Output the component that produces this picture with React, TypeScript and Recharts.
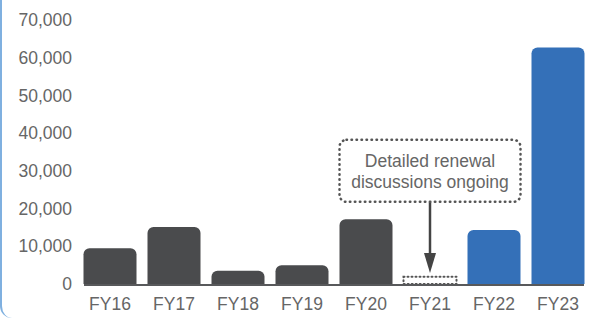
import React from "react";
import {
  ComposedChart,
  Bar,
  XAxis,
  YAxis,
  ReferenceLine,
  ReferenceDot,
  Rectangle,
} from "recharts";

const years = ["FY16", "FY17", "FY18", "FY19", "FY20", "FY21", "FY22", "FY23"];
const values = [9500, 15100, 3500, 5000, 17150, 1900, 14300, 62700];
const status = ["actual", "actual", "actual", "actual", "actual", "pending", "new", "new"];
const yTicks = [0, 10000, 20000, 30000, 40000, 50000, 60000, 70000];
const noteLines = ["Detailed renewal", "discussions ongoing"];
const noteAt = { year: "FY21", value: 30000 };
const arrowFrom = 21700;
const arrowTo = 2900;

const data = years.map((year, i) => ({ year, value: values[i], status: status[i] }));

const GRAY = "#4a4b4d";
const BLUE = "#3470b8";
const TEXT = "#666666";
const FONT = "'Liberation Sans', Arial, sans-serif";

function BarShape(props: any) {
  const { x, y, width, height, payload } = props;
  if (payload.status === "pending") {
    return (
      <rect
        x={x}
        y={y}
        width={width}
        height={height}
        fill="none"
        stroke="#555"
        strokeWidth={2}
        strokeDasharray="1 3"
        strokeLinecap="round"
      />
    );
  }
  return (
    <Rectangle
      x={x}
      y={y}
      width={width}
      height={height}
      radius={[6, 6, 0, 0]}
      fill={payload.status === "new" ? BLUE : GRAY}
    />
  );
}

function NoteBox(props: any) {
  const { cx, cy } = props;
  const w = 181;
  const h = 62;
  return (
    <g>
      <rect
        x={cx - w / 2}
        y={cy - h / 2}
        width={w}
        height={h}
        rx={7}
        fill="#fff"
        stroke="#555"
        strokeWidth={2.5}
        strokeDasharray="0.5 4.5"
        strokeLinecap="round"
      />
      {noteLines.map((line, i) => (
        <text
          key={line}
          x={cx}
          y={cy + (i - 0.5) * 21}
          dy="0.36em"
          textAnchor="middle"
          fill={TEXT}
          fontSize={17.5}
          fontFamily={FONT}
        >
          {line}
        </text>
      ))}
    </g>
  );
}

function Arrow(props: any) {
  const { x1, y1, x2, y2 } = props;
  const head = 20;
  return (
    <g>
      <line x1={x1} y1={y1} x2={x2} y2={y2 - head + 2} stroke="#444" strokeWidth={2.5} />
      <polygon
        points={`${x2 - 6},${y2 - head} ${x2 + 6},${y2 - head} ${x2},${y2}`}
        fill="#444"
      />
    </g>
  );
}

function Baseline(props: any) {
  const { x1, x2, y1 } = props;
  return <line x1={x1 + 6} x2={x2 - 6} y1={y1 + 1} y2={y1 + 1} stroke="#58595b" strokeWidth={2} />;
}

export default function App() {
  return (
    <div style={{ position: "absolute", left: 0, top: 0, width: 590, height: 320, background: "#fff" }}>
      <div
        style={{
          position: "absolute",
          left: 0,
          top: 0,
          width: 590,
          height: 318,
          borderLeft: "2px solid #7fb0e0",
          borderBottomLeftRadius: 12,
          boxSizing: "border-box",
        }}
      />
      <ComposedChart
        width={590}
        height={320}
        data={data}
        margin={{ top: 20, right: 0, bottom: 0, left: 0 }}
        barCategoryGap={5.5}
        style={{ position: "absolute", left: 0, top: 0 }}
      >
        <XAxis
          dataKey="year"
          axisLine={false}
          tickLine={false}
          tickSize={0}
          tickMargin={14}
          height={36}
          tick={{ fill: TEXT, fontSize: 17.5, fontFamily: FONT }}
        />
        <YAxis
          domain={[0, 70000]}
          ticks={yTicks}
          width={78}
          axisLine={false}
          tickLine={false}
          tickSize={0}
          tickMargin={6}
          tickFormatter={(v) => Number(v).toLocaleString("en-US")}
          tick={{ fill: TEXT, fontSize: 17.5, fontFamily: FONT }}
        />
        <Bar dataKey="value" isAnimationActive={false} shape={BarShape} />
        <ReferenceLine y={0} shape={Baseline} />
        <ReferenceLine
          segment={[
            { x: noteAt.year, y: arrowFrom },
            { x: noteAt.year, y: arrowTo },
          ]}
          shape={Arrow}
        />
        <ReferenceDot x={noteAt.year} y={noteAt.value} shape={NoteBox} />
      </ComposedChart>
    </div>
  );
}
